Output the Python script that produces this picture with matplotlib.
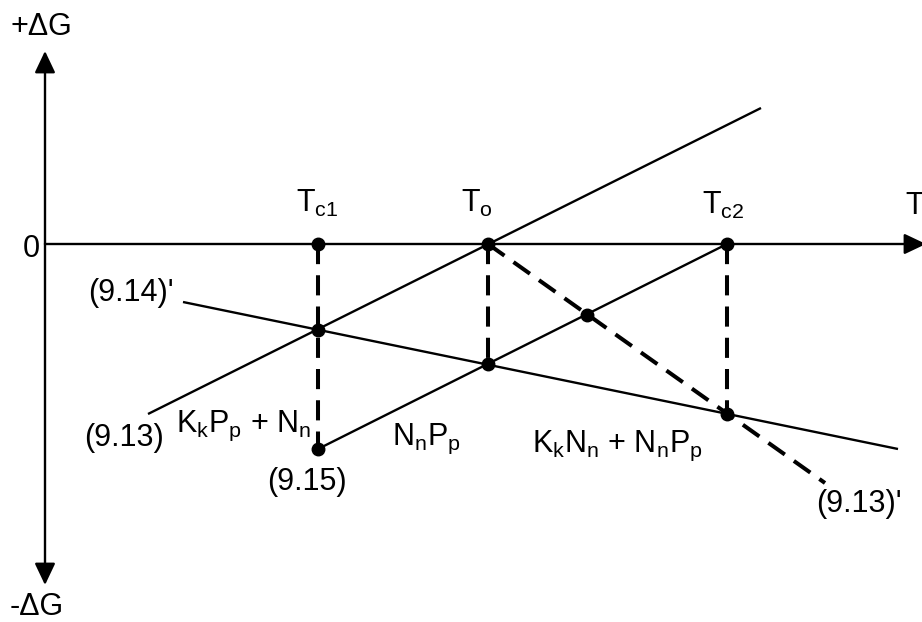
import matplotlib
matplotlib.use("Agg")
import matplotlib.pyplot as plt

plt.rcParams["font.family"] = ["Liberation Sans", "DejaVu Sans"]
plt.rcParams["mathtext.fontset"] = "custom"
plt.rcParams["mathtext.rm"] = "Liberation Sans"
plt.rcParams["mathtext.it"] = "Liberation Sans"
plt.rcParams["lines.scale_dashes"] = False

# Diagram coordinates (drawing units, y grows downward)
axis_origin = (45, 244)
axis_top = 51
axis_bottom = 585
axis_right = 926

# Solid lines: (x0, y0, x1, y1)
line_913 = (148, 414, 761, 108)
line_914p = (183, 302, 898, 449)
line_915 = (318, 449, 727, 244)
# Dashed line
line_913p = (488, 244, 825, 483)

# Dashed drop lines: x, y_top, y_bottom
drops_x = [318, 488, 727]
drops_y0 = [244, 244, 244]
drops_y1 = [449, 364, 414]

# Marked points
dots_x = [318, 488, 727, 318, 488, 727, 587, 318]
dots_y = [244, 244, 244, 330, 364, 414, 315, 449]

# Text labels: (x_left, y_baseline, text)
label_x = [10, 10, 23, 88, 296, 461, 702, 905, 84, 176, 267, 392, 532, 816]
label_y = [35, 615, 257, 301, 212, 212, 214, 214, 446, 432, 490, 445, 452, 512]
label_txt = [
    "+ΔG", "-ΔG", "0", "(9.14)'",
    r"T$_{\mathrm{c1}}$", r"T$_{\mathrm{o}}$", r"T$_{\mathrm{c2}}$", "T",
    "(9.13)", r"K$_{\mathrm{k}}$P$_{\mathrm{p}}$ + N$_{\mathrm{n}}$", "(9.15)",
    r"N$_{\mathrm{n}}$P$_{\mathrm{p}}$",
    r"K$_{\mathrm{k}}$N$_{\mathrm{n}}$ + N$_{\mathrm{n}}$P$_{\mathrm{p}}$",
    "(9.13)'",
]

W, H = 922, 622
fig = plt.figure(figsize=(W / 100, H / 100), dpi=100)
ax = fig.add_axes([0, 0, 1, 1])
ax.set_xlim(0, W)
ax.set_ylim(H, 0)
ax.axis("off")

lw = 1.7
ox, oy = axis_origin
arrow_kw = dict(arrowstyle="-|>,head_length=0.95,head_width=0.45", color="black",
                lw=lw, mutation_scale=14, shrinkA=0, shrinkB=0)
# Vertical axis (both directions) and horizontal axis
ax.annotate("", xy=(ox, axis_top), xytext=(ox, oy), arrowprops=arrow_kw,
            annotation_clip=False)
ax.annotate("", xy=(ox, axis_bottom), xytext=(ox, oy), arrowprops=arrow_kw,
            annotation_clip=False)
ax.annotate("", xy=(axis_right, oy), xytext=(ox, oy), arrowprops=arrow_kw,
            annotation_clip=False)

for seg in (line_913, line_914p, line_915):
    ax.plot([seg[0], seg[2]], [seg[1], seg[3]], color="black", lw=lw,
            solid_capstyle="butt")

dash = (0, (14.5, 8))
ax.plot([line_913p[0], line_913p[2]], [line_913p[1], line_913p[3]],
        color="black", lw=2.9, linestyle=dash, dash_capstyle="butt")
for x, y0, y1 in zip(drops_x, drops_y0, drops_y1):
    ax.plot([x, x], [y0, y1], color="black", lw=2.9, linestyle=dash,
            dash_capstyle="butt")

ax.plot(dots_x, dots_y, "o", color="black", markersize=9, zorder=5)

for x, y, t in zip(label_x, label_y, label_txt):
    ax.text(x, y, t, fontsize=22, ha="left", va="baseline", color="black")

fig.savefig("out.png", dpi=100)
